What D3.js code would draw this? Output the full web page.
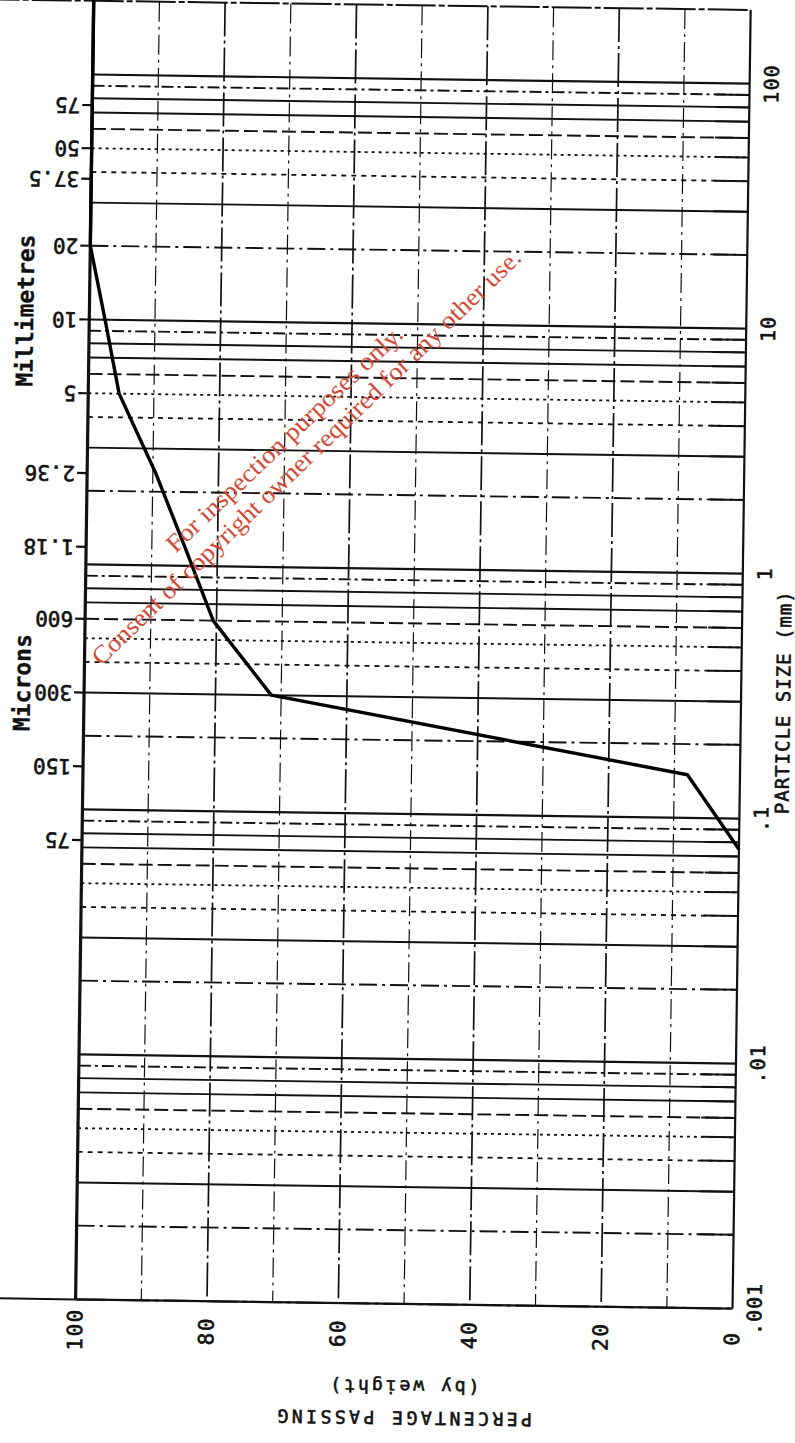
<!DOCTYPE html>
<html><head><meta charset="utf-8">
<script src="https://cdn.jsdelivr.net/npm/d3@7"></script>
<style>body{margin:0;background:#fff}svg{display:block}</style>
</head><body><svg id="c" width="795" height="1443"></svg>
<script>
// ---- data ----
const curveSizes = [200, 75, 50, 37.5, 20, 10, 5, 2.36, 1.18, 0.6, 0.3, 0.15, 0.075];
const curvePassing = [100, 100, 100, 100, 100, 97.6, 95.3, 89.5, 84.9, 80.5, 71.5, 8, 0];
const sieveSizes = [75, 50, 37.5, 20, 10, 5, 2.36, 1.18, 0.6, 0.3, 0.15, 0.075];
const sieveLabels = ["75", "50", "37.5", "20", "10", "5", "2.36", "1.18", "600", "300", "150", "75"];
const sizeTicks = [100, 10, 1, 0.1, 0.01, 0.001];
const sizeTickLabels = ["100", "10", "1", ".1", ".01", ".001"];
const percentTicks = [100, 80, 60, 40, 20, 0];
const percentGrid = [90, 80, 70, 60, 50, 40, 30, 20, 10];
const decades = [0.001, 0.01, 0.1, 1, 10];
const multipliers = [1, 2, 3, 4, 5, 6, 7, 8, 9];
const topSize = 200;

// ---- layout ----
const L = 84, R = 741;
const svg = d3.select("#c");
const g = svg.append("g").attr("transform", "rotate(0.8,410,700)");
const x = d3.scaleLinear().domain([100, 0]).range([L, R]);
const y = d3.scaleLog().domain([0.001, 100]).range([1304, 79]);
const ink = "#111";
const mono = "'DejaVu Sans Mono', 'Liberation Mono', monospace";

const styleFor = {
  1: {dash: null, w: 2.2},
  2: {dash: "18,5,3,5", w: 1.9},
  3: {dash: null, w: 1.9},
  4: {dash: "5,5", w: 1.8},
  5: {dash: "3,4", w: 1.8},
  6: {dash: "14,5", w: 1.9},
  7: {dash: null, w: 1.9},
  8: {dash: null, w: 1.9},
  9: {dash: "12,4,3,4", w: 1.9}
};

// horizontal grid lines
const hLines = [];
decades.forEach(d => multipliers.forEach(m => hLines.push({v: m * d, m})));
hLines.push({v: 100, m: 1});
g.append("g").selectAll("line").data(hLines).join("line")
  .attr("x1", L).attr("x2", R)
  .attr("y1", d => y(d.v)).attr("y2", d => y(d.v))
  .attr("stroke", ink)
  .attr("stroke-width", d => styleFor[d.m].w)
  .attr("stroke-dasharray", d => styleFor[d.m].dash);
// solid ends at right edge
g.append("g").selectAll("line").data(hLines.filter(d => d.m !== 1)).join("line")
  .attr("x1", R - 34).attr("x2", R)
  .attr("y1", d => y(d.v)).attr("y2", d => y(d.v))
  .attr("stroke", ink).attr("stroke-width", 2);

// vertical grid lines
g.append("g").selectAll("line").data(percentGrid).join("line")
  .attr("x1", d => x(d)).attr("x2", d => x(d))
  .attr("y1", y(topSize)).attr("y2", y(0.001))
  .attr("stroke", ink)
  .attr("stroke-width", d => d % 20 === 0 ? 1.7 : 1.2)
  .attr("stroke-dasharray", d => d % 20 === 0 ? "34,4,3,4" : "20,5,3,5");

// frame
g.append("line").attr("x1", -30).attr("x2", R).attr("y1", y(topSize)).attr("y2", y(topSize))
  .attr("stroke", ink).attr("stroke-width", 2).attr("stroke-dasharray", "40,3,6,3");
g.append("line").attr("x1", -30).attr("x2", L).attr("y1", y(0.001)).attr("y2", y(0.001))
  .attr("stroke", ink).attr("stroke-width", 2);
g.append("line").attr("x1", L).attr("x2", R).attr("y1", y(0.001)).attr("y2", y(0.001))
  .attr("stroke", ink).attr("stroke-width", 2).attr("stroke-dasharray", "30,5,4,5");
g.append("line").attr("x1", R).attr("x2", R).attr("y1", y(topSize)).attr("y2", y(0.001))
  .attr("stroke", ink).attr("stroke-width", 2.2);
g.append("line").attr("x1", L).attr("x2", L).attr("y1", y(topSize) - 10).attr("y2", y(0.001))
  .attr("stroke", ink).attr("stroke-width", 3.2);

// text style helper (plotter-like heavy strokes)
function heavy(sel, size, extra) {
  sel.style("font-family", mono).style("font-size", size + "px")
    .attr("fill", ink).attr("stroke", ink).attr("stroke-width", extra);
  return sel;
}

// sieve ticks and labels (left, upside down)
g.append("g").selectAll("line").data(sieveSizes).join("line")
  .attr("x1", L - 10).attr("x2", L)
  .attr("y1", d => y(d)).attr("y2", d => y(d))
  .attr("stroke", ink).attr("stroke-width", 2.2);
heavy(g.append("g").selectAll("text").data(sieveSizes).join("text")
  .attr("transform", d => `translate(${L - 12},${y(d)}) rotate(180)`)
  .attr("text-anchor", "start").attr("dominant-baseline", "central")
  .text((d, i) => sieveLabels[i]), 21, 0.6);

// side titles
heavy(g.append("text").attr("transform", "translate(20,316) rotate(-90)")
  .attr("text-anchor", "middle").attr("dominant-baseline", "central")
  .style("font-weight", "bold").text("Millimetres"), 23, 0.3);
heavy(g.append("text").attr("transform", "translate(22,688) rotate(-90)")
  .attr("text-anchor", "middle").attr("dominant-baseline", "central")
  .style("font-weight", "bold").text("Microns"), 23, 0.3);

// right size labels
heavy(g.append("g").selectAll("text").data(sizeTicks).join("text")
  .attr("transform", d => `translate(${R + 22},${y(d)}) rotate(-90)`)
  .attr("text-anchor", "middle").attr("dominant-baseline", "central")
  .style("letter-spacing", "1px")
  .text((d, i) => sizeTickLabels[i]), 20, 0.6);
heavy(g.append("text").attr("transform", `translate(${R + 42},697) rotate(-90)`)
  .attr("text-anchor", "middle").attr("dominant-baseline", "central")
  .style("letter-spacing", "1px")
  .text("PARTICLE SIZE (mm)"), 19, 0.6);

// bottom percent labels
heavy(g.append("g").selectAll("text").data(percentTicks).join("text")
  .attr("transform", d => `translate(${x(d)},1334) rotate(-90)`)
  .attr("text-anchor", "middle").attr("dominant-baseline", "central")
  .style("letter-spacing", "1.5px")
  .text(d => d), 21, 0.6);

// bottom titles (upside down)
heavy(g.append("text").attr("transform", "translate(413,1387) rotate(180)")
  .attr("text-anchor", "middle").attr("dominant-baseline", "central")
  .style("letter-spacing", "3px")
  .text("(by weight)"), 18, 0.6);
heavy(g.append("text").attr("transform", "translate(413,1418) rotate(180)")
  .attr("text-anchor", "middle").attr("dominant-baseline", "central")
  .style("letter-spacing", "3.5px")
  .text("PERCENTAGE PASSING"), 18, 0.6);

// grading curve
const pts = curveSizes.map((s, i) => [x(curvePassing[i]), y(s)]);
g.append("path").attr("d", d3.line()(pts))
  .attr("fill", "none").attr("stroke", "#000").attr("stroke-width", 3.4)
  .attr("stroke-linejoin", "round");

// watermark
const wm = svg.append("g").attr("fill", "#d24a36")
  .style("font-family", "'Liberation Serif', 'Times New Roman', serif").style("font-size", "25px");
wm.append("text").attr("transform", "translate(290,445) rotate(-43.5)")
  .attr("text-anchor", "middle").attr("textLength", 316).attr("lengthAdjust", "spacingAndGlyphs")
  .text("For inspection purposes only.");
wm.append("text").attr("transform", "translate(312,463) rotate(-44)")
  .attr("text-anchor", "middle").attr("textLength", 586).attr("lengthAdjust", "spacingAndGlyphs")
  .text("Consent of copyright owner required for any other use.");
</script></body></html>
